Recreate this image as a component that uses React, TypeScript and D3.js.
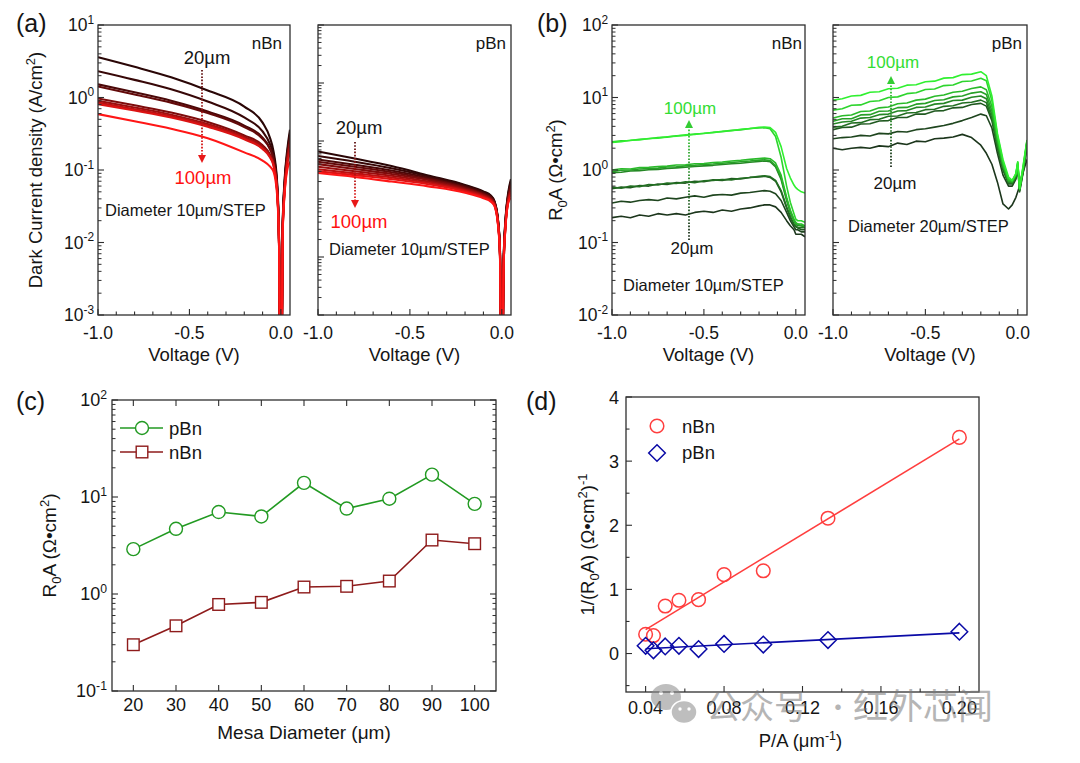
import React from "react";
import * as d3 from "d3";

const FONT = "'Liberation Sans', Arial, Helvetica, sans-serif";
const CJK = "'Noto Sans CJK SC', sans-serif";
const TXT = "#151515";
const AX = "#2e2e2e";

// ---------------- data ----------------
const diameters = [20, 30, 40, 50, 60, 70, 80, 90, 100];

// (a) dark current density, A/cm^2
const voltageA = [-1, -0.8, -0.6, -0.4, -0.2, -0.1, -0.06, -0.04, -0.02, -0.01, 0, 0.01, 0.02, 0.035, 0.05];
const nBnJ20 = [3.6, 2.65, 1.9, 1.25, 0.75, 0.45, 0.28, 0.18, 0.065, 0.012, 0.00001, 0.018, 0.07, 0.19, 0.36];
const nBnJ30 = [2.3, 1.75, 1.3, 0.88, 0.53, 0.34, 0.23, 0.16, 0.06, 0.011, 0.00001, 0.017, 0.065, 0.17, 0.32];
const nBnJ40 = [1.52, 1.18, 0.9, 0.64, 0.41, 0.28, 0.2, 0.145, 0.056, 0.0105, 0.00001, 0.016, 0.06, 0.16, 0.29];
const nBnJ50 = [1.42, 1.1, 0.85, 0.61, 0.39, 0.27, 0.195, 0.14, 0.055, 0.0102, 0.00001, 0.0155, 0.058, 0.155, 0.27];
const nBnJ60 = [0.97, 0.78, 0.62, 0.46, 0.3, 0.22, 0.165, 0.125, 0.052, 0.0098, 0.00001, 0.015, 0.055, 0.145, 0.25];
const nBnJ70 = [0.9, 0.73, 0.58, 0.43, 0.285, 0.21, 0.16, 0.12, 0.051, 0.0096, 0.00001, 0.0145, 0.053, 0.14, 0.23];
const nBnJ80 = [0.85, 0.69, 0.55, 0.41, 0.275, 0.2, 0.155, 0.117, 0.05, 0.0094, 0.00001, 0.014, 0.05, 0.13, 0.2];
const nBnJ90 = [0.81, 0.66, 0.53, 0.395, 0.265, 0.195, 0.15, 0.115, 0.049, 0.0092, 0.00001, 0.0135, 0.048, 0.12, 0.17];
const nBnJ100 = [0.59, 0.47, 0.37, 0.275, 0.175, 0.135, 0.112, 0.095, 0.044, 0.0088, 0.00001, 0.013, 0.045, 0.1, 0.13];
const nBnJ = [nBnJ20, nBnJ30, nBnJ40, nBnJ50, nBnJ60, nBnJ70, nBnJ80, nBnJ90, nBnJ100];

const pBnJ20 = [0.066, 0.05, 0.037, 0.0255, 0.0175, 0.0135, 0.0115, 0.0092, 0.0042, 0.0013, 0.000001, 0.0009, 0.0045, 0.013, 0.022];
const pBnJ30 = [0.055, 0.044, 0.034, 0.0245, 0.017, 0.0131, 0.0112, 0.009, 0.0041, 0.0013, 0.000001, 0.0009, 0.0043, 0.012, 0.02];
const pBnJ40 = [0.048, 0.039, 0.031, 0.0232, 0.0164, 0.0127, 0.0108, 0.0088, 0.004, 0.0012, 0.000001, 0.0008, 0.0041, 0.0115, 0.018];
const pBnJ50 = [0.044, 0.036, 0.029, 0.0222, 0.0158, 0.0123, 0.0105, 0.0086, 0.0039, 0.0012, 0.000001, 0.0008, 0.0039, 0.011, 0.017];
const pBnJ60 = [0.04, 0.033, 0.027, 0.0212, 0.0152, 0.0119, 0.0102, 0.0084, 0.0038, 0.0012, 0.000001, 0.0008, 0.0037, 0.0105, 0.015];
const pBnJ70 = [0.036, 0.03, 0.0252, 0.02, 0.0146, 0.0115, 0.0099, 0.0082, 0.0037, 0.0011, 0.000001, 0.0007, 0.0035, 0.01, 0.014];
const pBnJ80 = [0.0325, 0.0277, 0.0235, 0.019, 0.014, 0.0111, 0.0096, 0.008, 0.0036, 0.0011, 0.000001, 0.0007, 0.0034, 0.0095, 0.013];
const pBnJ90 = [0.03, 0.0258, 0.022, 0.018, 0.0135, 0.0107, 0.0093, 0.0078, 0.0035, 0.0011, 0.000001, 0.0007, 0.0033, 0.009, 0.012];
const pBnJ100 = [0.028, 0.024, 0.02, 0.0165, 0.0128, 0.0103, 0.009, 0.0076, 0.0034, 0.001, 0.000001, 0.0007, 0.0032, 0.0085, 0.0105];
const pBnJ = [pBnJ20, pBnJ30, pBnJ40, pBnJ50, pBnJ60, pBnJ70, pBnJ80, pBnJ90, pBnJ100];

// (b) R0A vs voltage, Ohm cm^2
const voltageB = [-1, -0.95, -0.9, -0.85, -0.8, -0.75, -0.7, -0.65, -0.6, -0.55, -0.5, -0.45, -0.4, -0.35, -0.3, -0.25, -0.2,
  -0.17, -0.14, -0.11, -0.08, -0.05, -0.03, -0.01, 0, 0.01, 0.03, 0.05];
const nBnR20 = [0.22, 0.23, 0.22, 0.24, 0.23, 0.25, 0.24, 0.25, 0.24, 0.26, 0.27, 0.26, 0.28, 0.27, 0.29, 0.3, 0.32, 0.33, 0.33, 0.31, 0.26, 0.2, 0.17, 0.15, 0.13, 0.13, 0.13, 0.12];
const nBnR30 = [0.35, 0.37, 0.36, 0.38, 0.39, 0.38, 0.41, 0.4, 0.42, 0.44, 0.42, 0.45, 0.46, 0.45, 0.48, 0.49, 0.51, 0.52, 0.51, 0.47, 0.38, 0.26, 0.2, 0.165, 0.15, 0.15, 0.14, 0.14];
const nBnR40 = [0.55, 0.58, 0.57, 0.61, 0.6, 0.64, 0.63, 0.67, 0.66, 0.7, 0.69, 0.73, 0.72, 0.76, 0.75, 0.79, 0.8, 0.82, 0.79, 0.7, 0.5, 0.3, 0.22, 0.175, 0.165, 0.16, 0.15, 0.15];
const nBnR50 = [0.58, 0.56, 0.6, 0.59, 0.63, 0.62, 0.66, 0.65, 0.69, 0.67, 0.71, 0.72, 0.74, 0.73, 0.77, 0.79, 0.82, 0.83, 0.81, 0.72, 0.52, 0.31, 0.23, 0.18, 0.17, 0.16, 0.16, 0.16];
const nBnR60 = [0.92, 0.93, 0.97, 0.98, 1.01, 1.02, 1.05, 1.07, 1.09, 1.12, 1.14, 1.16, 1.19, 1.22, 1.24, 1.28, 1.31, 1.33, 1.3, 1.1, 0.74, 0.38, 0.26, 0.2, 0.18, 0.17, 0.17, 0.16];
const nBnR70 = [0.95, 0.99, 1.0, 1.03, 1.05, 1.06, 1.1, 1.11, 1.14, 1.16, 1.19, 1.21, 1.24, 1.27, 1.3, 1.33, 1.37, 1.38, 1.35, 1.15, 0.78, 0.4, 0.27, 0.2, 0.18, 0.18, 0.17, 0.17];
const nBnR80 = [1.0, 1.04, 1.03, 1.08, 1.09, 1.12, 1.13, 1.17, 1.18, 1.22, 1.23, 1.27, 1.29, 1.33, 1.36, 1.4, 1.44, 1.46, 1.43, 1.25, 0.85, 0.42, 0.28, 0.21, 0.19, 0.18, 0.18, 0.17];
const nBnR90 = [2.45, 2.52, 2.55, 2.66, 2.7, 2.8, 2.84, 2.97, 3.0, 3.14, 3.18, 3.32, 3.38, 3.52, 3.58, 3.74, 3.8, 3.82, 3.7, 2.9, 1.5, 0.6, 0.36, 0.25, 0.21, 0.2, 0.2, 0.19];
const nBnR100 = [2.4, 2.46, 2.57, 2.6, 2.72, 2.75, 2.88, 2.93, 3.05, 3.1, 3.22, 3.28, 3.42, 3.48, 3.64, 3.72, 3.88, 3.92, 3.85, 3.3, 2.1, 1.05, 0.78, 0.62, 0.57, 0.54, 0.5, 0.48];
const nBnR = [nBnR20, nBnR30, nBnR40, nBnR50, nBnR60, nBnR70, nBnR80, nBnR90, nBnR100];

const pBnR20 = [2.0, 1.9, 2.0, 2.05, 2.0, 2.15, 2.1, 2.35, 2.25, 2.5, 2.45, 2.7, 2.75, 2.85, 3.1, 2.8, 2.2, 1.7, 1.2, 0.68, 0.34, 0.29, 0.33, 0.42, 0.5, 0.6, 0.95, 1.4];
const pBnR30 = [2.7, 2.8, 2.85, 3.0, 2.95, 3.2, 3.15, 3.4, 3.35, 3.6, 3.7, 3.9, 4.1, 4.4, 4.8, 5.3, 5.9, 5.6, 3.8, 1.7, 0.85, 0.6, 0.6, 0.75, 1.0, 0.65, 1.0, 2.1];
const pBnR40 = [3.6, 3.85, 3.9, 4.3, 4.35, 4.75, 4.8, 5.3, 5.3, 5.9, 5.9, 6.5, 6.6, 7.2, 7.3, 8.0, 8.3, 7.6, 4.8, 2.0, 1.0, 0.64, 0.64, 0.78, 1.05, 0.5, 0.95, 2.3];
const pBnR50 = [3.9, 4.0, 4.45, 4.5, 4.95, 5.0, 5.5, 5.55, 6.1, 6.2, 6.8, 6.9, 7.55, 7.7, 8.4, 8.6, 9.2, 8.5, 5.2, 2.1, 1.05, 0.66, 0.65, 0.8, 1.1, 0.52, 0.98, 2.35];
const pBnR60 = [4.3, 4.6, 4.7, 5.2, 5.3, 5.8, 5.9, 6.5, 6.6, 7.3, 7.4, 8.1, 8.3, 9.1, 9.2, 10.1, 10.5, 9.6, 5.8, 2.3, 1.1, 0.68, 0.67, 0.82, 1.15, 0.53, 1.0, 2.4];
const pBnR70 = [4.7, 5.1, 5.1, 5.75, 5.8, 6.45, 6.5, 7.25, 7.3, 8.1, 8.3, 9.1, 9.3, 10.2, 10.5, 11.5, 12, 11, 6.5, 2.5, 1.15, 0.7, 0.68, 0.85, 1.2, 0.55, 1.05, 2.45];
const pBnR80 = [5.2, 5.6, 5.75, 6.4, 6.5, 7.2, 7.4, 8.2, 8.4, 9.2, 9.5, 10.4, 10.8, 11.8, 12.2, 13.3, 14, 12.8, 7.5, 2.7, 1.2, 0.72, 0.7, 0.87, 1.25, 0.56, 1.08, 2.5];
const pBnR90 = [6.7, 7.0, 7.8, 7.9, 8.8, 9.0, 10.0, 10.2, 11.3, 11.6, 12.9, 13.1, 14.6, 14.9, 16.6, 16.9, 18.4, 17, 9, 3.0, 1.3, 0.76, 0.71, 0.88, 1.28, 0.56, 1.15, 2.55];
const pBnR100 = [9.2, 9.6, 10.5, 10.7, 11.8, 12.0, 13.2, 13.4, 14.8, 15.0, 16.5, 16.8, 18.5, 18.8, 20.7, 21.0, 22.7, 20, 10.5, 3.2, 1.4, 0.8, 0.72, 0.9, 1.3, 0.55, 1.2, 2.6];
const pBnR = [pBnR20, pBnR30, pBnR40, pBnR50, pBnR60, pBnR70, pBnR80, pBnR90, pBnR100];

// (c) R0A vs mesa diameter
const mesaDiameter = [20, 30, 40, 50, 60, 70, 80, 90, 100];
const pBnR0A = [2.9, 4.7, 7.0, 6.3, 14, 7.6, 9.6, 17, 8.5];
const nBnR0A = [0.3, 0.47, 0.78, 0.82, 1.18, 1.2, 1.36, 3.6, 3.3];

// (d) 1/R0A vs P/A
const perimOverArea = [0.2, 0.133, 0.1, 0.08, 0.067, 0.057, 0.05, 0.044, 0.04];
const invR0A_nBn = [3.37, 2.11, 1.29, 1.23, 0.84, 0.83, 0.74, 0.28, 0.3];
const invR0A_pBn = [0.34, 0.21, 0.14, 0.15, 0.07, 0.12, 0.11, 0.05, 0.12];

// ---------------- helpers ----------------
function logTickValues(lo: number, hi: number) {
  const majors: number[] = [];
  const minors: number[] = [];
  for (let e = lo; e <= hi; e++) {
    majors.push(Math.pow(10, e));
    if (e < hi) for (let m = 2; m < 10; m++) minors.push(m * Math.pow(10, e));
  }
  return { majors, minors };
}

function linFit(xs: number[], ys: number[]) {
  const mx = d3.mean(xs) as number;
  const my = d3.mean(ys) as number;
  let sxy = 0, sxx = 0;
  xs.forEach((x, i) => { sxy += (x - mx) * (ys[i] - my); sxx += (x - mx) * (x - mx); });
  const slope = sxy / sxx;
  return { slope, intercept: my - slope * mx };
}

function PowLabel({ x, y, exp, size = 17.5 }: { x: number; y: number; exp: number; size?: number }) {
  return (
    <text x={x} y={y + size * 0.36} textAnchor="end" fontSize={size} fontFamily={FONT} fill={TXT}>
      10<tspan dy={-size * 0.42} fontSize={size * 0.68}>{exp}</tspan>
    </text>
  );
}

type IVProps = {
  id: string; x0: number; x1: number; y0: number; y1: number; yLo: number; yHi: number;
  volts: number[]; series: number[][]; colors: string[]; showYLabels: boolean; curve: any; strokeW: number;
};

function IVPanel({ id, x0, x1, y0, y1, yLo, yHi, volts, series, colors, showYLabels, curve, strokeW }: IVProps) {
  const x = d3.scaleLinear().domain([-1, 0.05]).range([x0, x1]);
  const y = d3.scaleLog().domain([Math.pow(10, yLo), Math.pow(10, yHi)]).range([y1, y0]);
  const line = d3.line<number>().x((_, i) => x(volts[i])).y((d) => y(d)).curve(curve);
  const { majors, minors } = logTickValues(yLo, yHi);
  const xt = d3.range(-10, 1).map((i) => i / 10);
  return (
    <g>
      <defs>
        <clipPath id={id}><rect x={x0} y={y0} width={x1 - x0} height={y1 - y0} /></clipPath>
      </defs>
      <g clipPath={`url(#${id})`}>
        {series.map((s, i) => (
          <path key={i} d={line(s) as string} fill="none" stroke={colors[i]} strokeWidth={strokeW} strokeLinejoin="round" />
        ))}
      </g>
      {majors.map((v) => <line key={"M" + v} x1={x0} x2={x0 + 6} y1={y(v)} y2={y(v)} stroke={AX} strokeWidth={1.1} />)}
      {minors.map((v) => <line key={"m" + v} x1={x0} x2={x0 + 3.5} y1={y(v)} y2={y(v)} stroke={AX} strokeWidth={1} />)}
      {xt.map((v) => {
        const major = Math.abs(v * 2 - Math.round(v * 2)) < 1e-6;
        return <line key={"x" + v} x1={x(v)} x2={x(v)} y1={y1} y2={y1 - (major ? 6 : 3.5)} stroke={AX} strokeWidth={1.1} />;
      })}
      <rect x={x0} y={y0} width={x1 - x0} height={y1 - y0} fill="none" stroke={AX} strokeWidth={1.3} />
      {showYLabels && majors.map((v) => <PowLabel key={"L" + v} x={x0 - 4} y={y(v)} exp={Math.round(Math.log10(v))} />)}
      {[-1, -0.5, 0].map((v) => (
        <text key={"t" + v} x={x(v)} y={y1 + 24} textAnchor="middle" fontSize={17.5} fontFamily={FONT} fill={TXT}>
          {v.toFixed(1)}
        </text>
      ))}
      <text x={(x0 + x1) / 2} y={y1 + 46} textAnchor="middle" fontSize={18.5} fontFamily={FONT} fill={TXT}>Voltage (V)</text>
    </g>
  );
}

const redScale = (i: number) => d3.interpolateRgb("#2a0606", "#ff1616")(Math.pow(i / 8, 1.35));
const greenScale = (i: number) => d3.interpolateRgb("#1c361c", "#30f030")(Math.pow(i / 8, 1.2));

function DottedArrow({ x, yFrom, yTo, id, cFrom, cTo }: { x: number; yFrom: number; yTo: number; id: string; cFrom: string; cTo: string }) {
  const dir = yTo > yFrom ? 1 : -1;
  const tipY = yTo + dir * 8;
  return (
    <g>
      <defs>
        <linearGradient id={id} gradientUnits="userSpaceOnUse" x1={x} y1={yFrom} x2={x} y2={yTo}>
          <stop offset="0" stopColor={cFrom} />
          <stop offset="1" stopColor={cTo} />
        </linearGradient>
      </defs>
      <line x1={x} x2={x} y1={yFrom} y2={yTo} stroke={`url(#${id})`} strokeWidth={1.8} strokeDasharray="1.6,1.6" />
      <polygon points={`${x - 4},${yTo} ${x + 4},${yTo} ${x},${tipY}`} fill={cTo} />
    </g>
  );
}

// ---------------- panels c, d ----------------
function PanelC() {
  const x0 = 112, x1 = 496, y0 = 400, y1 = 691;
  const x = d3.scaleLinear().domain([15, 105]).range([x0, x1]);
  const y = d3.scaleLog().domain([0.1, 100]).range([y1, y0]);
  const line = d3.line<number>().x((_, i) => x(mesaDiameter[i])).y((d) => y(d));
  const { majors, minors } = logTickValues(-1, 2);
  const green = "#229a22";
  const dred = "#8e1b1b";
  return (
    <g>
      {majors.map((v) => (
        <g key={"M" + v}>
          <line x1={x0} x2={x0 + 6} y1={y(v)} y2={y(v)} stroke={AX} strokeWidth={1.1} />
          <line x1={x1} x2={x1 - 6} y1={y(v)} y2={y(v)} stroke={AX} strokeWidth={1.1} />
        </g>
      ))}
      {minors.map((v) => (
        <g key={"m" + v}>
          <line x1={x0} x2={x0 + 3.5} y1={y(v)} y2={y(v)} stroke={AX} strokeWidth={1} />
          <line x1={x1} x2={x1 - 3.5} y1={y(v)} y2={y(v)} stroke={AX} strokeWidth={1} />
        </g>
      ))}
      {mesaDiameter.map((v) => (
        <g key={"x" + v}>
          <line x1={x(v)} x2={x(v)} y1={y1} y2={y1 - 6} stroke={AX} strokeWidth={1.1} />
          <line x1={x(v)} x2={x(v)} y1={y0} y2={y0 + 6} stroke={AX} strokeWidth={1.1} />
        </g>
      ))}
      <rect x={x0} y={y0} width={x1 - x0} height={y1 - y0} fill="none" stroke={AX} strokeWidth={1.3} />
      <path d={line(pBnR0A) as string} fill="none" stroke={green} strokeWidth={1.6} />
      <path d={line(nBnR0A) as string} fill="none" stroke={dred} strokeWidth={1.6} />
      {pBnR0A.map((v, i) => (
        <circle key={"c" + i} cx={x(mesaDiameter[i])} cy={y(v)} r={6.5} fill="#fff" stroke={green} strokeWidth={1.4} />
      ))}
      {nBnR0A.map((v, i) => (
        <rect key={"s" + i} x={x(mesaDiameter[i]) - 5.8} y={y(v) - 5.8} width={11.6} height={11.6} fill="#fff" stroke={dred} strokeWidth={1.4} />
      ))}
      {majors.map((v) => <PowLabel key={"L" + v} x={x0 - 5} y={y(v)} exp={Math.round(Math.log10(v))} size={18} />)}
      {mesaDiameter.map((v) => (
        <text key={"t" + v} x={x(v)} y={y1 + 20} textAnchor="middle" fontSize={18} fontFamily={FONT} fill={TXT}>{v}</text>
      ))}
      <text x={(x0 + x1) / 2} y={y1 + 48} textAnchor="middle" fontSize={19} fontFamily={FONT} fill={TXT}>Mesa Diameter (μm)</text>
      <text transform={`translate(56,${(y0 + y1) / 2}) rotate(-90)`} textAnchor="middle" fontSize={19} fontFamily={FONT} fill={TXT}>
        R<tspan dy={5} fontSize={13}>0</tspan><tspan dy={-5}>A (Ω•cm</tspan><tspan dy={-7} fontSize={13}>2</tspan><tspan dy={7}>)</tspan>
      </text>
      {/* legend */}
      <line x1={120} x2={163} y1={428} y2={428} stroke={green} strokeWidth={1.6} />
      <circle cx={142} cy={428} r={6.5} fill="#fff" stroke={green} strokeWidth={1.4} />
      <text x={169} y={434.5} fontSize={18.5} fontFamily={FONT} fill={TXT}>pBn</text>
      <line x1={120} x2={163} y1={452} y2={452} stroke={dred} strokeWidth={1.6} />
      <rect x={142 - 5.8} y={452 - 5.8} width={11.6} height={11.6} fill="#fff" stroke={dred} strokeWidth={1.4} />
      <text x={169} y={458.5} fontSize={18.5} fontFamily={FONT} fill={TXT}>nBn</text>
      <text x={16} y={410} fontSize={25} fontFamily={FONT} fill={TXT}>(c)</text>
    </g>
  );
}

function PanelD() {
  const x0 = 626, x1 = 979, y0 = 397, y1 = 692;
  const x = d3.scaleLinear().domain([0.03, 0.21]).range([x0, x1]);
  const y = d3.scaleLinear().domain([-0.6, 4]).range([y1, y0]);
  const red = "#ff3e3e";
  const blue = "#0a0aa6";
  const fitN = linFit(perimOverArea, invR0A_nBn);
  const fitP = linFit(perimOverArea, invR0A_pBn);
  const xs = [0.04, 0.2];
  const yTicks = d3.range(-1, 9).map((i) => i / 2);
  const xTicks = d3.range(2, 11).map((i) => i * 0.02);
  const diamond = (cx: number, cy: number, s: number) => `M${cx},${cy - s}L${cx + s},${cy}L${cx},${cy + s}L${cx - s},${cy}Z`;
  return (
    <g>
      {yTicks.map((v) => {
        const major = Math.abs(v - Math.round(v)) < 1e-6;
        return <line key={"y" + v} x1={x0} x2={x0 + (major ? 6 : 3.5)} y1={y(v)} y2={y(v)} stroke={AX} strokeWidth={1.1} />;
      })}
      {xTicks.map((v, i) => (
        <line key={"x" + i} x1={x(v)} x2={x(v)} y1={y1} y2={y1 - (i % 2 === 0 ? 6 : 3.5)} stroke={AX} strokeWidth={1.1} />
      ))}
      <rect x={x0} y={y0} width={x1 - x0} height={y1 - y0} fill="none" stroke={AX} strokeWidth={1.3} />
      <line x1={x(xs[0])} x2={x(xs[1])} y1={y(fitN.intercept + fitN.slope * xs[0])} y2={y(fitN.intercept + fitN.slope * xs[1])} stroke={red} strokeWidth={1.6} />
      <line x1={x(xs[0])} x2={x(xs[1])} y1={y(fitP.intercept + fitP.slope * xs[0])} y2={y(fitP.intercept + fitP.slope * xs[1])} stroke={blue} strokeWidth={1.6} />
      {invR0A_nBn.map((v, i) => (
        <circle key={"c" + i} cx={x(perimOverArea[i])} cy={y(v)} r={6.8} fill="none" stroke={red} strokeWidth={1.5} />
      ))}
      {invR0A_pBn.map((v, i) => (
        <path key={"d" + i} d={diamond(x(perimOverArea[i]), y(v), 8.3)} fill="none" stroke={blue} strokeWidth={1.5} />
      ))}
      {[0, 1, 2, 3, 4].map((v) => (
        <text key={"l" + v} x={x0 - 7} y={y(v) + 6.5} textAnchor="end" fontSize={18} fontFamily={FONT} fill={TXT}>{v}</text>
      ))}
      {[0.04, 0.08, 0.12, 0.16, 0.2].map((v) => (
        <text key={"t" + v} x={x(v)} y={y1 + 22} textAnchor="middle" fontSize={18} fontFamily={FONT} fill={TXT}>{v.toFixed(2)}</text>
      ))}
      <text x={(x0 + x1) / 2 - 2} y={y1 + 55} textAnchor="middle" fontSize={18.5} fontFamily={FONT} fill={TXT}>
        P/A (μm<tspan dy={-7} fontSize={12.5}>-1</tspan><tspan dy={7}>)</tspan>
      </text>
      <text transform={`translate(594,${(y0 + y1) / 2}) rotate(-90)`} textAnchor="middle" fontSize={18.5} fontFamily={FONT} fill={TXT}>
        1/(R<tspan dy={5} fontSize={13}>0</tspan><tspan dy={-5}>A) (Ω•cm</tspan><tspan dy={-7} fontSize={13}>2</tspan><tspan dy={7}>)</tspan><tspan dy={-7} fontSize={13}>-1</tspan>
      </text>
      <circle cx={657} cy={426} r={6.8} fill="none" stroke={red} strokeWidth={1.5} />
      <text x={682} y={432.5} fontSize={18.5} fontFamily={FONT} fill={TXT}>nBn</text>
      <path d={diamond(657, 453, 8.3)} fill="none" stroke={blue} strokeWidth={1.5} />
      <text x={682} y={459} fontSize={18.5} fontFamily={FONT} fill={TXT}>pBn</text>
      <text x={526} y={410} fontSize={25} fontFamily={FONT} fill={TXT}>(d)</text>
    </g>
  );
}

function Watermark() {
  return (
    <g opacity={0.55}>
      <ellipse cx={666} cy={697} rx={15} ry={13} fill="#8a8a8a" />
      <ellipse cx={684} cy={712} rx={13} ry={11.5} fill="#8a8a8a" stroke="#fff" strokeWidth={1.5} />
      <circle cx={661} cy={693} r={2} fill="#fff" />
      <circle cx={672} cy={693} r={2} fill="#fff" />
      <circle cx={680} cy={709} r={1.7} fill="#fff" />
      <circle cx={689} cy={709} r={1.7} fill="#fff" />
      <text x={706} y={719} fontSize={34} fontFamily={CJK} fill="#7a7a7a">公众号</text>
      <text x={825} y={717} fontSize={26} fontFamily={CJK} fill="#7a7a7a">·</text>
      <text x={853} y={719} fontSize={35} fontFamily={CJK} fill="#7a7a7a">红外芯闻</text>
    </g>
  );
}

export default function App() {
  const redColors = diameters.map((_, i) => redScale(i));
  const greenColors = diameters.map((_, i) => greenScale(i));
  return (
    <svg width={1080} height={763} style={{ position: "absolute", left: 0, top: 0, background: "#fff" }}>
      <rect x={0} y={0} width={1080} height={763} fill="#fff" />
      {/* (a) */}
      <IVPanel id="ca1" x0={98} x1={290} y0={25} y1={315} yLo={-3} yHi={1} volts={voltageA} series={nBnJ}
        colors={redColors} showYLabels curve={d3.curveMonotoneX} strokeW={2.1} />
      <IVPanel id="ca2" x0={318} x1={511} y0={25} y1={315} yLo={-4} yHi={1} volts={voltageA} series={pBnJ}
        colors={redColors} showYLabels={false} curve={d3.curveMonotoneX} strokeW={2.1} />
      <text x={16} y={32} fontSize={25} fontFamily={FONT} fill={TXT}>(a)</text>
      <text transform="translate(42,170) rotate(-90)" textAnchor="middle" fontSize={18.5} fontFamily={FONT} fill={TXT}>
        Dark Current density (A/cm<tspan dy={-7} fontSize={13}>2</tspan><tspan dy={7}>)</tspan>
      </text>
      <text x={282} y={49} textAnchor="end" fontSize={17} fontFamily={FONT} fill={TXT}>nBn</text>
      <text x={207} y={64} textAnchor="middle" fontSize={18.5} fontFamily={FONT} fill={TXT}>20µm</text>
      <DottedArrow id="ga1" x={202} yFrom={70} yTo={155} cFrom="#5a1010" cTo="#e81818" />
      <text x={203} y={184} textAnchor="middle" fontSize={18.5} fontFamily={FONT} fill="#ff1010">100µm</text>
      <text x={105} y={216} fontSize={16.5} fontFamily={FONT} fill={TXT}>Diameter 10µm/STEP</text>

      <text x={506} y={49} textAnchor="end" fontSize={17} fontFamily={FONT} fill={TXT}>pBn</text>
      <text x={359} y={134} textAnchor="middle" fontSize={18.5} fontFamily={FONT} fill={TXT}>20µm</text>
      <DottedArrow id="ga2" x={355} yFrom={142} yTo={200} cFrom="#5a1010" cTo="#e81818" />
      <text x={359} y={228} textAnchor="middle" fontSize={18.5} fontFamily={FONT} fill="#ff1010">100µm</text>
      <text x={329} y={255} fontSize={16.5} fontFamily={FONT} fill={TXT}>Diameter 10µm/STEP</text>

      {/* (b) */}
      <IVPanel id="cb1" x0={612} x1={805} y0={25} y1={315} yLo={-2} yHi={2} volts={voltageB} series={nBnR}
        colors={greenColors} showYLabels curve={d3.curveLinear} strokeW={1.6} />
      <IVPanel id="cb2" x0={833} x1={1027} y0={25} y1={315} yLo={-2} yHi={2} volts={voltageB} series={pBnR}
        colors={greenColors} showYLabels={false} curve={d3.curveLinear} strokeW={1.6} />
      <text x={537} y={32} fontSize={25} fontFamily={FONT} fill={TXT}>(b)</text>
      <text transform="translate(562,170) rotate(-90)" textAnchor="middle" fontSize={18.5} fontFamily={FONT} fill={TXT}>
        R<tspan dy={5} fontSize={13}>0</tspan><tspan dy={-5}>A (Ω•cm</tspan><tspan dy={-7} fontSize={13}>2</tspan><tspan dy={7}>)</tspan>
      </text>
      <text x={802} y={49} textAnchor="end" fontSize={17} fontFamily={FONT} fill={TXT}>nBn</text>
      <text x={690} y={114} textAnchor="middle" fontSize={17} fontFamily={FONT} fill="#33dd33">100µm</text>
      <DottedArrow id="gb1" x={689} yFrom={240} yTo={128} cFrom="#1a2a1a" cTo="#33cc33" />
      <text x={692} y={254} textAnchor="middle" fontSize={17} fontFamily={FONT} fill={TXT}>20µm</text>
      <text x={623} y={291} fontSize={16.5} fontFamily={FONT} fill={TXT}>Diameter 10µm/STEP</text>

      <text x={1022} y={49} textAnchor="end" fontSize={17} fontFamily={FONT} fill={TXT}>pBn</text>
      <text x={893} y={68} textAnchor="middle" fontSize={17} fontFamily={FONT} fill="#33dd33">100µm</text>
      <DottedArrow id="gb2" x={891} yFrom={167} yTo={84} cFrom="#1a2a1a" cTo="#33cc33" />
      <text x={895} y={189} textAnchor="middle" fontSize={17} fontFamily={FONT} fill={TXT}>20µm</text>
      <text x={848} y={232} fontSize={16.5} fontFamily={FONT} fill={TXT}>Diameter 20µm/STEP</text>

      <PanelC />
      <PanelD />
      <Watermark />
    </svg>
  );
}
